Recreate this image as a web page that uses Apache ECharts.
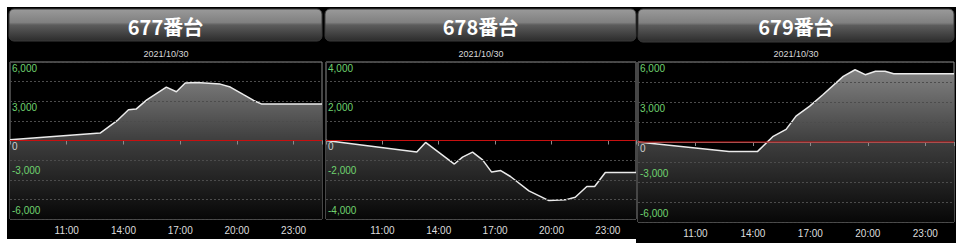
<!DOCTYPE html>
<html><head><meta charset="utf-8">
<script src="https://cdn.jsdelivr.net/npm/echarts@6/dist/echarts.min.js"></script>
<style>html,body{margin:0;padding:0;background:#fff;} #c{width:966px;height:251px;}</style>
</head><body><div id="c"></div>
<script>
// ---- data ----
const panelTitles = ['677番台', '678番台', '679番台'];
const dateText = '2021/10/30';
const xTickLabels = ['11:00', '14:00', '17:00', '20:00', '23:00'];

const times677 = ['08:00','12:46','13:43','14:16','14:40','15:14','16:16','16:48','17:16','17:53','19:07','19:39','20:21','20:53','21:19','24:30'];
const values677 = [50, 570, 1580, 2350, 2400, 3110, 4080, 3725, 4390, 4440, 4310, 4085, 3500, 3060, 2785, 2785];

const times678 = ['08:00','12:50','13:18','14:50','15:16','15:48','16:20','16:49','17:18','17:49','18:48','19:52','20:44','21:16','21:53','22:18','22:52','24:30'];
const values678 = [0, -590, -100, -1200, -850, -590, -985, -1610, -1530, -1835, -2565, -3060, -3025, -2890, -2345, -2345, -1630, -1630];

const times679 = ['08:00','12:45','14:14','15:02','15:44','16:15','16:58','17:40','18:43','19:20','19:52','20:24','20:54','21:21','24:30'];
const values679 = [0, -720, -720, 400, 950, 1940, 2690, 3560, 4920, 5420, 5050, 5300, 5300, 5125, 5125];

// red zero reference line, spanning the whole time range
const zeroLineTimes = ['08:00', '24:30'];
const zeroLineValues = [0, 0];

const yMaxes = [6000, 4000, 6000];
const yGridSteps = [1500, 1000, 1500];
const yLabelSteps = [3000, 2000, 3000];

// ---- layout (not data) ----
const panels = [
  { bg: [7, 7, 317, 232], header: [9, 9, 313, 32], grid: [10, 62, 312, 157] },
  { bg: [323, 7, 317, 232], header: [325, 9, 311, 32], grid: [326, 62, 310, 157] },
  { bg: [636, 7, 320, 236], header: [638, 9, 316, 33], grid: [638, 62, 316, 160] }
];

function toHours(s) { const p = s.split(':'); return +p[0] + (+p[1]) / 60; }
function fmt(v) {
  const s = Math.abs(v).toString().replace(/\B(?=(\d{3})+(?!\d))/g, ',');
  return (v < 0 ? '-' : '') + s;
}
const seriesData = [
  times677.map((t, i) => [toHours(t), values677[i]]),
  times678.map((t, i) => [toHours(t), values678[i]]),
  times679.map((t, i) => [toHours(t), values679[i]])
];
const zeroData = zeroLineTimes.map((t, i) => [toHours(t), zeroLineValues[i]]);

const grids = [], xAxes = [], yAxes = [], series = [], graphics = [];
const labelFont = 'Liberation Sans';
panels.forEach((p, i) => {
  graphics.push({ type: 'rect', z: -10, shape: { x: p.bg[0], y: p.bg[1], width: p.bg[2], height: p.bg[3] }, style: { fill: '#000' } });
  graphics.push({ type: 'rect', z: -5, shape: { x: p.header[0], y: p.header[1], width: p.header[2], height: p.header[3], r: 5 },
    style: { fill: new echarts.graphic.LinearGradient(0, 0, 0, 1, [
      { offset: 0, color: '#9a9a9a' }, { offset: 0.42, color: '#808080' },
      { offset: 0.5, color: '#5c5c5c' }, { offset: 1, color: '#2c2c2c' }]), stroke: '#3a3a3a', lineWidth: 1 } });
  graphics.push({ type: 'text', z: 5, x: p.header[0] + p.header[2] / 2, y: p.header[1] + p.header[3] / 2 + 1,
    style: { text: panelTitles[i], fill: '#ffffff', font: 'bold 20px "Noto Sans CJK JP"', textAlign: 'center', textVerticalAlign: 'middle', align: 'center', verticalAlign: 'middle' } });
  graphics.push({ type: 'text', z: 5, x: p.grid[0] + p.grid[2] / 2, y: 54,
    style: { text: dateText, fill: '#d8d8d8', font: '9px "Liberation Sans"', textAlign: 'center', textVerticalAlign: 'middle', align: 'center', verticalAlign: 'middle' } });

  grids.push({ left: p.grid[0], top: p.grid[1], width: p.grid[2], height: p.grid[3], show: true,
    backgroundColor: '#000', borderColor: '#8c8c8c', borderWidth: 1, containLabel: false });

  xAxes.push({ type: 'value', gridIndex: i, min: 8, max: 24.5, interval: 3, z: 10,
    axisLine: { show: true, lineStyle: { color: '#8c8c8c' } },
    axisTick: { show: true, length: 4, lineStyle: { color: '#8c8c8c' } },
    splitLine: { show: false },
    axisLabel: { color: '#dddddd', fontSize: 10, fontFamily: labelFont, margin: 6,
      formatter: v => { const h = Math.round(v); const lbl = h + ':00'; return xTickLabels.indexOf(lbl) >= 0 ? lbl : ''; } } });

  const richStyles = { g: { color: '#6fd26f', fontSize: 10, fontFamily: labelFont }, z: { color: '#cfcfcf', fontSize: 10, fontFamily: labelFont } };
  const mk = (pos) => ({ type: 'value', gridIndex: i, position: 'left', min: -yMaxes[i], max: yMaxes[i], interval: yGridSteps[i], z: 10,
    axisLine: { show: false }, axisTick: { show: false },
    splitLine: { show: pos, lineStyle: { color: '#4c4c4c', type: [2, 2], width: 1 } },
    axisLabel: { inside: true, margin: 2, showMinLabel: true, showMaxLabel: true,
      verticalAlign: pos ? 'top' : 'bottom', padding: pos ? [1, 0, 0, 0] : [0, 0, 4, 0],
      formatter: v => {
        if (Math.abs(v % yLabelSteps[i]) > 1e-6) return '';
        if (pos && v < 0) return '';
        if (!pos && v >= 0) return '';
        return v === 0 ? '{z|0}' : '{g|' + fmt(v) + '}';
      }, rich: richStyles } });
  yAxes.push(mk(true));
  yAxes.push(mk(false));

  const gTop = p.grid[1], gBot = p.grid[1] + p.grid[3];
  series.push({ type: 'line', xAxisIndex: i, yAxisIndex: i * 2, data: seriesData[i], symbol: 'none', smooth: false,
    lineStyle: { color: '#ebebeb', width: 1.5 },
    areaStyle: { origin: 'start', opacity: 1, color: new echarts.graphic.LinearGradient(0, gTop, 0, gBot, [
      { offset: 0, color: '#8a8a8a' }, { offset: 0.5, color: '#3e3e3e' }, { offset: 1, color: '#070707' }], true) },
    z: 2 });
  series.push({ type: 'line', xAxisIndex: i, yAxisIndex: i * 2, data: zeroData, symbol: 'none', silent: true, z: 20,
    lineStyle: { color: '#c81010', width: 1 } });
});

const chart = echarts.init(document.getElementById('c'), null, { renderer: 'svg' });
chart.setOption({ animation: false, backgroundColor: '#ffffff', grid: grids, xAxis: xAxes, yAxis: yAxes, series: series, graphic: graphics });
</script></body></html>
